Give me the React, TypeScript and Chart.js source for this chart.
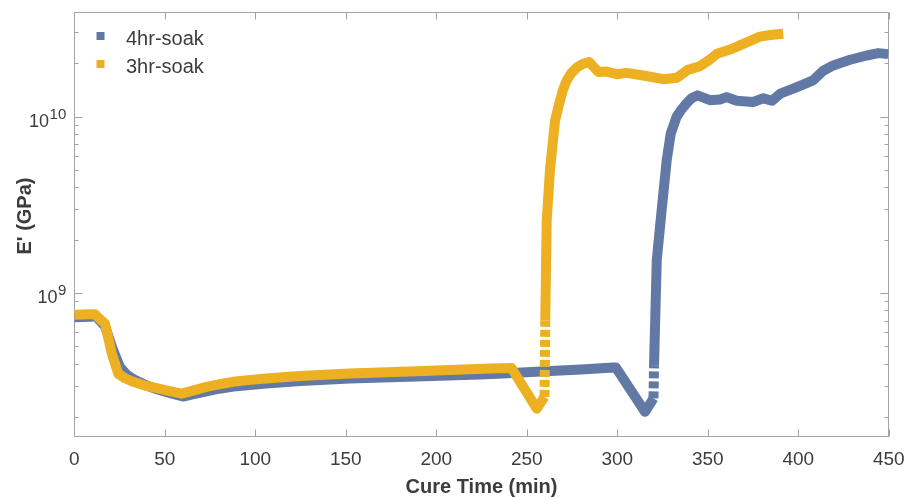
import { useEffect, useRef } from 'react';
import { Chart, registerables } from 'chart.js';

Chart.register(...registerables);

// ---- data ----
const SERIES_NAMES = ['4hr-soak', '3hr-soak'];

const T_4HR = [0, 8.7, 12, 17, 21, 25, 29, 33, 40, 46, 53, 60, 66, 73, 80, 88, 97, 106, 125, 152, 189, 224, 237, 263, 280, 297.8, 299.2, 315.3, 320, 320.3, 321.8, 324.5, 327.3, 329.5, 332.8, 335.5, 338.3, 341, 344.3, 351.2, 356.7, 360.4, 366, 375, 380.7, 385.5, 390, 397.2, 404.6, 408.3, 413.8, 419.3, 428.6, 437.8, 444.2, 449.7];
const E_4HR = [7.3e8, 7.35e8, 7.4e8, 6.5e8, 4.9e8, 3.85e8, 3.45e8, 3.25e8, 3.0e8, 2.85e8, 2.72e8, 2.6e8, 2.68e8, 2.78e8, 2.88e8, 2.96e8, 3.02e8, 3.08e8, 3.18e8, 3.29e8, 3.38e8, 3.46e8, 3.51e8, 3.63e8, 3.7e8, 3.8e8, 3.8e8, 2.13e8, 2.54e8, 3.92e8, 1.54e9, 2.95e9, 5.66e9, 8.0e9, 1.0e10, 1.1e10, 1.19e10, 1.27e10, 1.32e10, 1.24e10, 1.25e10, 1.29e10, 1.23e10, 1.21e10, 1.27e10, 1.23e10, 1.35e10, 1.44e10, 1.55e10, 1.61e10, 1.82e10, 1.95e10, 2.1e10, 2.22e10, 2.29e10, 2.26e10];

const T_3HR = [0, 8.7, 11.4, 17, 20.7, 24.3, 28, 32.6, 39, 45.5, 52, 59.3, 66, 73, 80, 87.8, 96, 106, 124.7, 152, 189, 215, 230, 241.6, 255.5, 259.8, 260.2, 261, 262.8, 265.6, 268.3, 270, 272, 274.5, 277.6, 280.5, 284.5, 289.5, 294, 299.7, 305, 314.4, 325.4, 332.8, 339, 345.7, 351, 355, 362, 369.6, 378.8, 384.4, 391.7];
const E_3HR = [7.55e8, 7.6e8, 7.6e8, 6.7e8, 4.56e8, 3.5e8, 3.3e8, 3.15e8, 3.0e8, 2.9e8, 2.8e8, 2.7e8, 2.82e8, 2.95e8, 3.05e8, 3.15e8, 3.22e8, 3.29e8, 3.4e8, 3.51e8, 3.61e8, 3.7e8, 3.75e8, 3.77e8, 2.22e8, 2.59e8, 7.0e8, 2.59e9, 4.97e9, 9.5e9, 1.23e10, 1.42e10, 1.6e10, 1.76e10, 1.9e10, 1.98e10, 2.04e10, 1.79e10, 1.8e10, 1.74e10, 1.77e10, 1.71e10, 1.63e10, 1.66e10, 1.84e10, 1.93e10, 2.1e10, 2.27e10, 2.39e10, 2.58e10, 2.84e10, 2.9e10, 2.95e10];

// sparse (dotted-looking) segments start at these x values
const DASH_FROM_4HR = 320;
const DASH_FROM_3HR = 259.8;

const X_TICKS = [0, 50, 100, 150, 200, 250, 300, 350, 400, 450];
const Y_MAJOR = [1e9, 1e10];
const Y_MAJOR_EXP = ['9', '10'];
const Y_MINOR = [2e8, 3e8, 4e8, 5e8, 6e8, 7e8, 8e8, 9e8, 2e9, 3e9, 4e9, 5e9, 6e9, 7e9, 8e9, 9e9, 2e10, 3e10];

const X_MIN = 0;
const X_MAX = 450;
const Y_MIN = 1.54e8;
const Y_MAX = 3.94e10;

const X_TITLE = 'Cure Time (min)';
const Y_TITLE = "E' (GPa)";

// ---- style ----
const BLUE = '#6279a6';
const ORANGE = '#ecb022';
const FRAME = '#a3a3a3';
const TEXT = '#3c3c3c';
const FONT = '"Liberation Sans", Arial, Helvetica, sans-serif';

const decor = {
  id: 'decor',
  beforeDatasetsDraw(chart: any) {
    const { ctx, chartArea: a, scales } = chart;
    const x = scales.x;
    const y = scales.y;
    ctx.save();
    ctx.strokeStyle = FRAME;
    ctx.lineWidth = 1;
    const L = Math.round(a.left) + 0.5;
    const R = Math.round(a.right) - 0.5;
    const T = Math.round(a.top) + 0.5;
    const B = Math.round(a.bottom) - 0.5;
    ctx.strokeRect(L, T, R - L, B - T);

    ctx.beginPath();
    for (const t of X_TICKS) {
      const px = Math.round(x.getPixelForValue(t)) + 0.5;
      ctx.moveTo(px, B); ctx.lineTo(px, B - 7);
      ctx.moveTo(px, T); ctx.lineTo(px, T + 7);
    }
    for (const v of Y_MAJOR) {
      const py = Math.round(y.getPixelForValue(v)) + 0.5;
      ctx.moveTo(L, py); ctx.lineTo(L + 8, py);
      ctx.moveTo(R, py); ctx.lineTo(R - 8, py);
    }
    for (const v of Y_MINOR) {
      const py = Math.round(y.getPixelForValue(v)) + 0.5;
      ctx.moveTo(L, py); ctx.lineTo(L + 4, py);
      ctx.moveTo(R, py); ctx.lineTo(R - 4, py);
    }
    ctx.stroke();

    ctx.fillStyle = TEXT;
    // x tick labels
    ctx.font = `19px ${FONT}`;
    ctx.textAlign = 'center';
    ctx.textBaseline = 'alphabetic';
    for (const t of X_TICKS) {
      ctx.fillText(String(t), x.getPixelForValue(t), 465);
    }
    // y tick labels 10^n
    Y_MAJOR.forEach((v, i) => {
      const py = y.getPixelForValue(v);
      const right = a.left - 8;
      ctx.font = `15px ${FONT}`;
      ctx.textAlign = 'right';
      ctx.fillText(Y_MAJOR_EXP[i], right, py + 2);
      const w = ctx.measureText(Y_MAJOR_EXP[i]).width;
      ctx.font = `18px ${FONT}`;
      ctx.fillText('10', right - w - 0.5, py + 10);
    });
    // axis titles
    ctx.font = `bold 20px ${FONT}`;
    ctx.textAlign = 'center';
    ctx.fillText(X_TITLE, (a.left + a.right) / 2, 493);
    ctx.save();
    ctx.translate(31, 216);
    ctx.rotate(-Math.PI / 2);
    ctx.fillText(Y_TITLE, 0, 0);
    ctx.restore();
    ctx.restore();
  },
  afterDatasetsDraw(chart: any) {
    const { ctx } = chart;
    ctx.save();
    const colors = [BLUE, ORANGE];
    const rows = [36, 64];
    SERIES_NAMES.forEach((name, i) => {
      ctx.fillStyle = colors[i];
      ctx.fillRect(96.5, rows[i] - 4, 8, 8);
      ctx.fillStyle = TEXT;
      ctx.font = `20px ${FONT}`;
      ctx.textAlign = 'left';
      ctx.textBaseline = 'alphabetic';
      ctx.fillText(name, 126, rows[i] + 8.5);
    });
    ctx.restore();
  },
};

function toPoints(ts: number[], es: number[]) {
  return ts.map((t, i) => ({ x: t, y: es[i] }));
}

export default function App() {
  const ref = useRef<HTMLCanvasElement>(null);
  useEffect(() => {
    document.body.style.margin = '0';
    const dashed = (from: number) => (c: any) =>
      c.p0.parsed.x === from ? [7, 3] : undefined;
    const chart = new Chart(ref.current as HTMLCanvasElement, {
      type: 'line',
      data: {
        datasets: [
          {
            label: SERIES_NAMES[0],
            data: toPoints(T_4HR, E_4HR),
            borderColor: BLUE,
            backgroundColor: BLUE,
            borderWidth: 10,
            pointRadius: 0,
            tension: 0,
            borderCapStyle: 'butt',
            borderJoinStyle: 'round',
            order: 1,
            segment: { borderDash: dashed(DASH_FROM_4HR) },
          } as any,
          {
            label: SERIES_NAMES[1],
            data: toPoints(T_3HR, E_3HR),
            borderColor: ORANGE,
            backgroundColor: ORANGE,
            borderWidth: 10,
            pointRadius: 0,
            tension: 0,
            borderCapStyle: 'butt',
            borderJoinStyle: 'round',
            order: 0,
            segment: { borderDash: dashed(DASH_FROM_3HR) },
          } as any,
        ],
      },
      options: {
        responsive: false,
        animation: false,
        devicePixelRatio: 1,
        layout: { padding: { left: 74.3, right: 18.2, top: 11.5, bottom: 61.3 } },
        scales: {
          x: { type: 'linear', min: X_MIN, max: X_MAX, display: false },
          y: { type: 'logarithmic', min: Y_MIN, max: Y_MAX, display: false },
        },
        plugins: { legend: { display: false }, tooltip: { enabled: false } },
      },
      plugins: [decor],
    });
    return () => chart.destroy();
  }, []);
  return (
    <div style={{ width: 907, height: 498 }}>
      <canvas ref={ref} width={907} height={498} style={{ display: 'block' }} />
    </div>
  );
}
